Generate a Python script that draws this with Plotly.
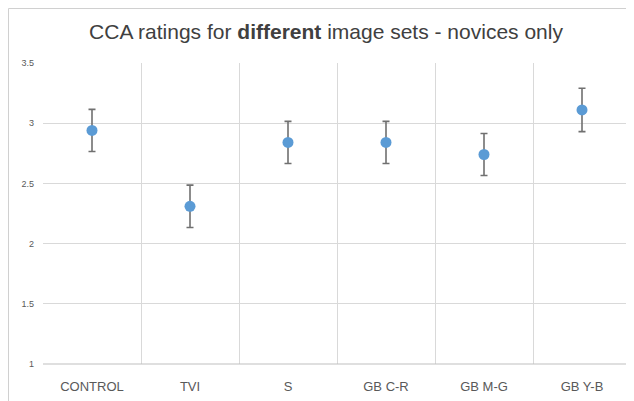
import plotly.graph_objects as go

categories = ["CONTROL", "TVI", "S", "GB C-R", "GB M-G", "GB Y-B"]
means = [2.94, 2.31, 2.84, 2.84, 2.74, 3.11]
errors = [0.175, 0.176, 0.175, 0.175, 0.175, 0.18]
y_ticks = [1, 1.5, 2, 2.5, 3, 3.5]
y_ticklabels = ["1", "1.5", "2", "2.5", "3", "3.5"]

x_pos = list(range(len(categories)))

L, R, T, B = 35, 11, 55, 45
W, H = 634, 401
pw, ph = W - L - R, H - T - B

fig = go.Figure()
fig.add_trace(go.Scatter(
    x=x_pos, y=means, mode="markers",
    marker=dict(color="#5b9bd5", size=11),
    error_y=dict(type="data", array=errors, visible=True,
                 color="#707070", thickness=1.6, width=3.5),
    showlegend=False,
))

fig.update_layout(
    width=W, height=H,
    margin=dict(l=L, r=R, t=T, b=B, autoexpand=False),
    paper_bgcolor="white", plot_bgcolor="white",
    title=dict(
        text="CCA ratings for <b>different</b> image sets - novices only",
        x=(326 - 8) / W, xanchor="center", y=1 - (32 - 8) / H, yanchor="middle",
        font=dict(family="Liberation Sans, Arial", size=21, color="#404040"),
    ),
    xaxis=dict(
        range=[-0.5, len(categories) - 0.5],
        tickmode="array", tickvals=x_pos, ticktext=categories,
        showgrid=False, zeroline=False, showline=False,
        ticks="", ticklabelstandoff=13,
        tickfont=dict(family="Liberation Sans, Arial", size=13, color="#595959"),
        minor=dict(tickmode="array",
                   tickvals=[i - 0.5 for i in range(len(categories) + 1)],
                   showgrid=True, gridcolor="#d9d9d9", gridwidth=1, ticks=""),
        fixedrange=True,
    ),
    yaxis=dict(
        range=[1, 3.5],
        tickmode="array", tickvals=y_ticks, ticktext=y_ticklabels,
        showgrid=True, gridcolor="#d9d9d9", gridwidth=1,
        zeroline=False, showline=False, ticks="", ticklabelstandoff=8,
        tickfont=dict(family="Liberation Sans, Arial", size=9, color="#595959"),
        fixedrange=True,
    ),
    shapes=[
        dict(type="line", xref="paper", yref="paper", x0=0, x1=1, y0=0, y1=0,
             line=dict(color="#bfbfbf", width=1.2)),
        dict(type="rect", xref="paper", yref="paper",
             x0=(0.5 - L) / pw, x1=(W - 9.5 - L) / pw,
             y0=-(B + 20) / ph, y1=1 + (T - 0.5) / ph,
             line=dict(color="#d0d0d0", width=1), layer="below"),
    ],
)

fig.write_html("out.html")
